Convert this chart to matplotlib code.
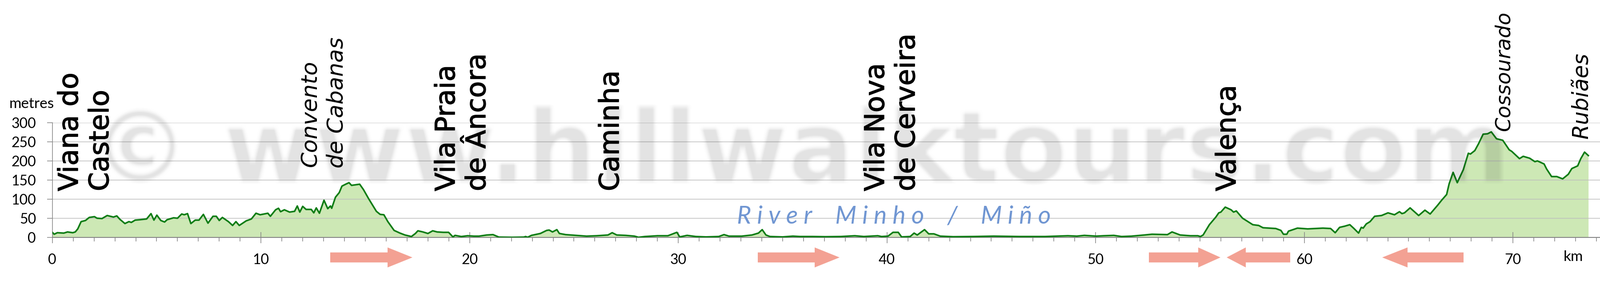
import numpy as np
import matplotlib
matplotlib.use("Agg")
import matplotlib.pyplot as plt
import matplotlib.patheffects as pe
from matplotlib.patches import FancyArrow
from matplotlib.transforms import Affine2D

# elevation profile
km = [0, .09, .24, .55, .73, .98, 1.1, 1.22, 1.38, 1.59, 1.77, 2.02, 2.14, 2.38, 2.63, 2.93, 3.09, 3.24, 3.48, 3.67,
      3.79, 3.97, 4.19, 4.52, 4.73, 4.87, 5.01, 5.2, 5.38, 5.5, 5.81, 6.0, 6.2, 6.32, 6.48, 6.64, 6.85, 7.03, 7.24, 7.46,
      7.7, 7.86, 8.0, 8.15, 8.44, 8.64, 8.8, 8.96, 9.29, 9.54, 9.76, 9.96, 10.33, 10.45, 10.7, 10.84, 10.94, 11.12, 11.37, 11.61,
      11.74, 11.86, 12.0, 12.16, 12.41, 12.53, 12.65, 12.8, 13.02, 13.2, 13.33, 13.39, 13.57, 13.75, 13.88, 14.06, 14.22, 14.34, 14.73, 14.91,
      15.16, 15.53, 15.71, 15.89, 16.08, 16.38, 16.66, 16.9, 17.21, 17.4, 17.52, 17.76, 18.0, 18.23, 18.44, 18.74, 18.99, 19.2, 19.3, 19.6,
      19.9, 20.2, 20.45, 20.82, 21.12, 21.4, 22.04, 22.6, 22.68, 22.78, 22.96, 23.39, 23.69, 23.81, 23.97, 24.18, 24.3, 24.6, 25.1, 25.6,
      26.08, 26.63, 26.83, 27.05, 27.48, 27.9, 28.09, 28.4, 29.0, 29.5, 29.93, 30.07, 30.42, 30.84, 31.33, 31.94, 32.19, 32.43, 33.04, 33.53,
      33.84, 34.02, 34.2, 34.39, 35.0, 35.49, 35.83, 36.44, 37.05, 37.79, 38.46, 38.89, 39.56, 39.74, 40.05, 40.29, 40.54, 40.7, 41.11, 41.3,
      41.45, 41.8, 42.0, 42.25, 42.55, 43.17, 44.14, 45.12, 46.34, 47.57, 48.67, 49.1, 49.46, 50.02, 50.38, 50.87, 51.24, 51.72, 52.33, 52.7,
      53.44, 53.66, 54.05, 54.54, 54.9, 55.02, 55.15, 55.45, 55.76, 55.9, 56.0, 56.21, 56.49, 56.61, 56.74, 57.04, 57.53, 57.81, 58.02, 58.63,
      58.88, 59.0, 59.16, 59.24, 59.67, 60.16, 60.89, 61.26, 61.48, 61.69, 61.93, 62.18, 62.36, 62.6, 62.73, 62.82, 62.97, 63.15, 63.37, 63.7,
      64.01, 64.32, 64.56, 64.68, 64.8, 65.07, 65.48, 65.78, 66.03, 66.39, 66.58, 66.82, 66.94, 67.13, 67.33, 67.62, 67.86, 67.96, 68.17, 68.35,
      68.57, 68.78, 68.96, 69.21, 69.51, 69.82, 69.94, 70.31, 70.49, 70.8, 71.05, 71.17, 71.49, 71.61, 71.85, 72.1, 72.38, 72.65, 72.82, 73.1,
      73.25, 73.43, 73.61]
elevation = [13, 8, 12, 11, 14, 12, 14, 22, 41, 44, 52, 54, 50, 49, 57, 53, 56, 47, 36, 41,
             39, 45, 46, 48, 62, 45, 58, 44, 40, 46, 51, 50, 61, 59, 62, 36, 45, 45, 60, 37,
             55, 55, 44, 52, 41, 31, 41, 31, 43, 48, 63, 59, 63, 55, 72, 76, 67, 72, 66, 68,
             82, 66, 81, 73, 73, 64, 77, 63, 97, 75, 82, 76, 105, 117, 134, 139, 143, 136, 139, 125,
             101, 68, 60, 59, 41, 18, 11, 6, 2, 10, 17, 14, 10, 17, 14, 13, 13, 1, 5, 2,
             4, 3, 3, 6, 7, .5, 0, .5, 2, 0, 5, 10, 18, 19, 14, 20, 10, 7, 5, 3,
             4, 6, 12, 6, 5, 3, 0, 2, 4, 4, 13, 1, 5, 2, 1, 2, 7, 3, 3, 6,
             11, 20, 6, 2, 1, 3, 2, 2, 1.5, 2, 4, 2, 4, 2, 3, 13, 13, 1, 2, 11,
             6, 20, 9, 9, 3, 1.5, 2, 3, 2, 2, 4, 3, 5, 3, 4, 5, 2, 3, 6, 8,
             7, 14, 6, 4, 4, 2, 6, 33, 53, 64, 66, 79, 72, 66, 69, 50, 33, 31, 25, 23,
             18, 8, 8, 16, 24, 22, 24, 23, 12, 26, 29, 33, 24, 11, 26, 24, 35, 41, 55, 57,
             64, 59, 67, 62, 64, 77, 57, 71, 61, 84, 97, 112, 140, 170, 143, 177, 220, 218, 227, 245,
             270, 271, 276, 258, 254, 229, 225, 206, 212, 207, 198, 200, 192, 179, 159, 159, 153, 165, 180, 187,
             206, 223, 214]

y_ticks = [0, 50, 100, 150, 200, 250, 300]
x_major = [0, 10, 20, 30, 40, 50, 60, 70]
x_minor = list(range(0, 75))

plt.rcParams["font.family"] = ["Lato", "DejaVu Sans"]

GREEN = "#0f7d16"
FILL = "#cde8b5"
AXIS = "#868686"
ARROW = "#f3a193"
RIVER = "#7096d2"

fig = plt.figure(figsize=(36, 6.32), dpi=100)
ax = fig.add_axes([117.7 / 3600, (632 - 533.7) / 632, (3600 - 117.7) / 3600, 257.7 / 632])

# annotations are placed in picture pixels, y going down
px = Affine2D().scale(1, -1).translate(0, 632)

ax.fill_between(km, elevation, 0, color=FILL, lw=0, zorder=1)
ax.plot(km, elevation, color=GREEN, lw=2.6, zorder=3)
ax.set_xlim(0, 74.17)
ax.set_ylim(0, 300)

ax.set_yticks(y_ticks)
ax.set_xticks(x_major)
ax.set_xticks(x_minor, minor=True)
ax.tick_params(axis="y", length=8.4, width=1.1, color=AXIS, labelsize=23, pad=18)
ax.tick_params(axis="x", which="major", length=9.3, width=1.1, color=AXIS, labelsize=23, pad=17)
ax.tick_params(axis="x", which="minor", length=6.8, width=1.1, color=AXIS)
ax.vlines(x_major, 0, 14, color=AXIS, lw=1.1, zorder=2)

for y in y_ticks[1:]:
    ax.axhline(y, color="#bdbdbd", lw=1.5, alpha=0.72, zorder=2)

for side in ["top", "right"]:
    ax.spines[side].set_visible(False)
ax.spines["left"].set_color(AXIS)
ax.spines["left"].set_linewidth(1.1)
ax.spines["bottom"].set_color(AXIS)
ax.spines["bottom"].set_linewidth(1.5)


def blur(image, dpi, pad=14, size=13):
    # soft edge for the watermark
    image = np.pad(image, ((pad, pad), (pad, pad), (0, 0)))
    kernel = np.ones(size) / size
    image = np.apply_along_axis(np.convolve, 0, image, kernel, mode="same")
    image = np.apply_along_axis(np.convolve, 1, image, kernel, mode="same")
    return image, -pad, -pad


mark = fig.text(1800, 408, "© www.hillwalktours.com", transform=px, ha="center", va="baseline",
                family="DejaVu Sans", fontweight="bold", fontsize=159, color="black", alpha=0.115, zorder=6)
mark.set_agg_filter(blur)


def place(x, y, label, size=44, style="normal", weight=1.0):
    t = fig.text(x, y, label, transform=px, rotation=90, rotation_mode="anchor", ha="left", va="baseline",
                 family="DejaVu Sans", fontsize=size, fontstyle=style, color="black", zorder=7)
    if weight:
        t.set_path_effects([pe.withStroke(linewidth=weight, foreground="black")])


place(175, 430, "Viana do")
place(244, 430, "Castelo")
place(712, 375, "Convento", 36, "italic", 0)
place(772, 378, "de Cabanas", 36, "italic", 0)
place(1023, 430, "Vila Praia")
place(1092, 430, "de Âncora")
place(1392, 430, "Caminha")
place(1989, 430, "Vila Nova")
place(2058, 430, "de Cerveira")
place(2780, 430, "Valença")
place(3397, 295, "Cossourado", 33, "italic", 0)
place(3572, 312, "Rubiães", 35, "italic", 0)

fig.text(21, 243, "metres", transform=px, ha="left", va="baseline", fontsize=24, zorder=7)
fig.text(3540, 587, "km", transform=px, ha="center", va="baseline", fontsize=24, zorder=7)
fig.text(1658, 502, "R i v e r    M i n h o    /    M i ñ o", transform=px, ha="left", va="baseline",
         fontsize=40, fontstyle="italic", color=RIVER, zorder=7)

# start, end, head length of the direction arrows
for start, end, head in [(743, 928, 56), (1705, 1889, 56), (2585, 2746, 50), (2903, 2760, 43), (3293, 3110, 57)]:
    fig.add_artist(FancyArrow(start, 579, end - start, 0, width=22.5, head_width=45, head_length=head,
                              length_includes_head=True, color=ARROW, lw=0, transform=px))

fig.savefig("out.png", dpi=100)
